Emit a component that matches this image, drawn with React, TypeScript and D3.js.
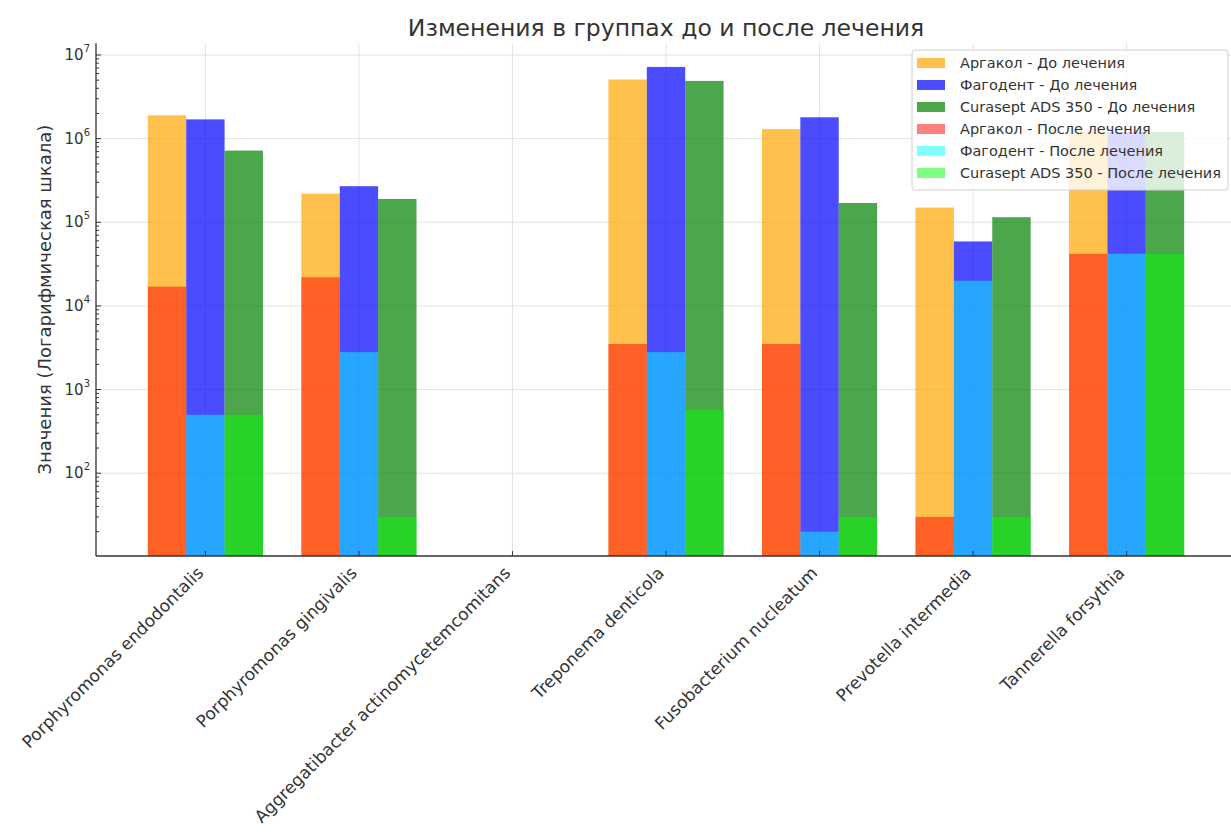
import * as d3 from 'd3';

// bacteria on the x axis
const categories = [
  'Porphyromonas endodontalis',
  'Porphyromonas gingivalis',
  'Aggregatibacter actinomycetemcomitans',
  'Treponema denticola',
  'Fusobacterium nucleatum',
  'Prevotella intermedia',
  'Tannerella forsythia',
];

// 0 = no data (nothing drawn on log scale)
const argakolBefore = [1.9e6, 2.2e5, 0, 5.1e6, 1.3e6, 1.5e5, 1.2e6];
const fagodentBefore = [1.7e6, 2.7e5, 0, 7.2e6, 1.8e6, 5.9e4, 1.2e6];
const curaseptBefore = [7.2e5, 1.9e5, 0, 4.9e6, 1.7e5, 1.15e5, 1.2e6];
const argakolAfter = [1.7e4, 2.2e4, 0, 3.5e3, 3.5e3, 30, 4.2e4];
const fagodentAfter = [500, 2.8e3, 0, 2.8e3, 20, 2.0e4, 4.2e4];
const curaseptAfter = [500, 30, 0, 570, 30, 30, 4.2e4];

const yTickValues = [1e2, 1e3, 1e4, 1e5, 1e6, 1e7];

const series = [
  { label: 'Аргакол - До лечения', values: argakolBefore, offset: -1, color: '#ffa500', alpha: 0.7 },
  { label: 'Фагодент - До лечения', values: fagodentBefore, offset: 0, color: '#0000ff', alpha: 0.7 },
  { label: 'Curasept ADS 350 - До лечения', values: curaseptBefore, offset: 1, color: '#008000', alpha: 0.7 },
  { label: 'Аргакол - После лечения', values: argakolAfter, offset: -1, color: '#ff0000', alpha: 0.5 },
  { label: 'Фагодент - После лечения', values: fagodentAfter, offset: 0, color: '#00ffff', alpha: 0.5 },
  { label: 'Curasept ADS 350 - После лечения', values: curaseptAfter, offset: 1, color: '#00ff00', alpha: 0.5 },
];

const W = 1231;
const H = 832;
const barW = 0.25;
const font = 'DejaVu Sans, sans-serif';

export default function App() {
  const left = 96, right = 1236, top = 43.3, bottom = 556;

  const x = d3.scaleLinear().domain([-0.7125, categories.length - 1 + 0.7125]).range([left, right]);
  const y = d3.scaleLog().domain([10 ** 1.01, 10 ** 7.14]).range([bottom, top]);

  // minor ticks 2..9 per decade
  const minorTicks: number[] = [];
  for (let e = 1; e <= 7; e++) {
    for (let m = 2; m <= 9; m++) {
      const v = m * 10 ** e;
      if (v > y.domain()[0] && v < y.domain()[1]) minorTicks.push(v);
    }
  }

  const pxW = x(barW) - x(0);

  return (
    <svg width={W} height={H} style={{ position: 'absolute', left: 0, top: 0, background: '#fff' }} fontFamily={font}>
      <defs>
        <clipPath id="plot">
          <rect x={left} y={0} width={W - left} height={bottom} />
        </clipPath>
      </defs>

      {/* grid */}
      <g stroke="#e3e3e3" strokeWidth={1}>
        {yTickValues.map(v => (
          <line key={'gy' + v} x1={left} x2={W} y1={y(v)} y2={y(v)} />
        ))}
        {categories.map((_, i) => (
          <line key={'gx' + i} x1={x(i)} x2={x(i)} y1={top} y2={bottom} />
        ))}
      </g>

      {/* bars: before first, then after on top */}
      <g clipPath="url(#plot)">
        {series.map(s => s.values.map((v, i) => v > 0 && (
          <rect
            key={s.label + i}
            x={x(i + s.offset * barW - barW / 2)}
            width={pxW}
            y={y(v)}
            height={bottom - y(v)}
            fill={s.color}
            fillOpacity={s.alpha}
          />
        )))}
      </g>

      {/* axes */}
      <g stroke="#333" strokeWidth={1.3}>
        <line x1={left} x2={left} y1={top} y2={bottom} />
        <line x1={left} x2={W} y1={bottom} y2={bottom} />
      </g>
      <g stroke="#333" strokeWidth={1}>
        {yTickValues.map(v => (
          <line key={'ty' + v} x1={left} x2={left + 5} y1={y(v)} y2={y(v)} />
        ))}
        {minorTicks.map(v => (
          <line key={'tm' + v} x1={left} x2={left + 3} y1={y(v)} y2={y(v)} />
        ))}
        {categories.map((_, i) => (
          <line key={'tx' + i} x1={x(i)} x2={x(i)} y1={bottom} y2={bottom - 5} />
        ))}
      </g>

      {/* y tick labels */}
      <g fill="#333" fontSize={15}>
        {yTickValues.map(v => (
          <text key={'ly' + v} x={left - 6} y={y(v)} textAnchor="end" dominantBaseline="central">
            10<tspan fontSize={10} dy={-7}>{Math.round(Math.log10(v))}</tspan>
          </text>
        ))}
      </g>

      {/* x tick labels */}
      <g fill="#333" fontSize={17}>
        {categories.map((c, i) => (
          <text key={'lx' + i} transform={`translate(${x(i) - 10},${bottom + 9}) rotate(-45)`} textAnchor="end" dy="0.75em">
            {c}
          </text>
        ))}
      </g>

      {/* axis label + title */}
      <text transform={`translate(44,${(top + bottom) / 2}) rotate(-90)`} textAnchor="middle" dominantBaseline="central" fontSize={18} fill="#333">
        Значения (Логарифмическая шкала)
      </text>
      <text x={(left + right) / 2} y={28} textAnchor="middle" dominantBaseline="central" fontSize={23.5} fill="#333">
        Изменения в группах до и после лечения
      </text>

      {/* legend */}
      <g>
        <rect x={912} y={50} width={316} height={140} rx={3} fill="#fff" fillOpacity={0.8} stroke="#d0d0d0" />
        {series.map((s, k) => (
          <g key={'lg' + k} transform={`translate(917,${63 + k * 22})`}>
            <rect x={0} y={-5} width={28} height={10} fill={s.color} fillOpacity={s.alpha} />
            <text x={43} y={0} dominantBaseline="central" fontSize={14.5} fill="#333">{s.label}</text>
          </g>
        ))}
      </g>
    </svg>
  );
}
